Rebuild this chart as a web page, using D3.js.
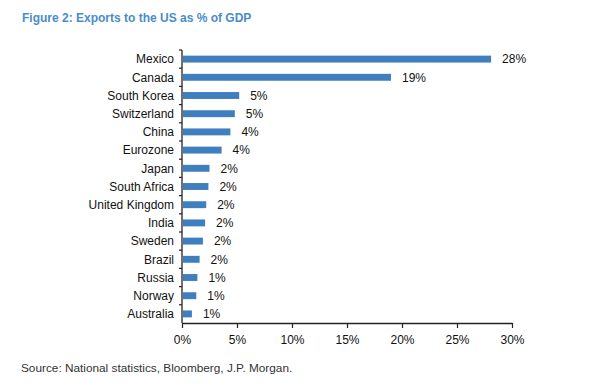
<!DOCTYPE html>
<html>
<head>
<meta charset="utf-8">
<script src="https://cdn.jsdelivr.net/npm/d3@7"></script>
<style>
  body { margin: 0; background: #fff; }
  text { font-family: "Liberation Sans", Arial, sans-serif; }
</style>
</head>
<body>
<svg id="vis" width="590" height="386"></svg>
<script>
const countries = ["Mexico", "Canada", "South Korea", "Switzerland", "China", "Eurozone", "Japan",
  "South Africa", "United Kingdom", "India", "Sweden", "Brazil", "Russia", "Norway", "Australia"];
const shares = [28.1, 19.0, 5.2, 4.8, 4.4, 3.6, 2.5, 2.4, 2.2, 2.1, 1.9, 1.6, 1.4, 1.3, 0.9];
const shareLabels = ["28%", "19%", "5%", "5%", "4%", "4%", "2%", "2%", "2%", "2%", "2%", "2%", "1%", "1%", "1%"];
const xTicks = [0, 5, 10, 15, 20, 25, 30];

const svg = d3.select("#vis");
const margins = { top: 50, left: 182, right: 78, bottom: 63 };
const width = 590, height = 386;
const data = countries.map((c, i) => ({ name: c, value: shares[i], label: shareLabels[i] }));

svg.append("text")
    .attr("x", 22).attr("y", 22)
    .attr("font-size", 12).attr("font-weight", "bold")
    .attr("fill", "#4a8cc9")
    .text("Figure 2: Exports to the US as % of GDP");

const x = d3.scaleLinear().domain([0, 30]).range([margins.left, width - margins.right]);
const y = d3.scaleBand().domain(countries)
    .range([margins.top, height - margins.bottom])
    .paddingInner(0.62).paddingOuter(0.31);

const g = svg.append("g");

g.selectAll("rect.bar")
  .data(data)
  .join("rect")
    .attr("class", "bar")
    .attr("x", x(0) + 1)
    .attr("y", d => y(d.name))
    .attr("width", d => x(d.value) - x(0) - 1)
    .attr("height", y.bandwidth())
    .attr("fill", "#3f7fbf");

g.selectAll("text.val")
  .data(data)
  .join("text")
    .attr("class", "val")
    .attr("x", d => x(d.value) + 11)
    .attr("y", d => y(d.name) + y.bandwidth() / 2)
    .attr("dy", "0.35em")
    .attr("font-size", 12)
    .attr("fill", "#111")
    .text(d => d.label);

// y axis: line + ticks at band boundaries
const yAxisG = svg.append("g");
const yTop = y.range()[0], yBottom = y.range()[1];
yAxisG.append("line")
    .attr("x1", x(0)).attr("x2", x(0))
    .attr("y1", yTop).attr("y2", yBottom)
    .attr("stroke", "#222").attr("stroke-width", 1.3);
const step = y.step();
yAxisG.selectAll("line.tk")
  .data(d3.range(countries.length))
  .join("line")
    .attr("class", "tk")
    .attr("x1", x(0) - 3).attr("x2", x(0))
    .attr("y1", i => yTop + i * step)
    .attr("y2", i => yTop + i * step)
    .attr("stroke", "#222").attr("stroke-width", 1.2);
yAxisG.selectAll("text")
  .data(countries)
  .join("text")
    .attr("x", x(0) - 8)
    .attr("y", d => y(d) + y.bandwidth() / 2)
    .attr("dy", "0.35em")
    .attr("text-anchor", "end")
    .attr("font-size", 12)
    .attr("fill", "#111")
    .text(d => d);

// x axis
const xAxisG = svg.append("g")
    .attr("transform", `translate(0,${yBottom})`)
    .call(d3.axisBottom(x).tickValues(xTicks).tickFormat(d => d + "%").tickSize(5).tickSizeOuter(0));
xAxisG.select(".domain").attr("stroke", "#222").attr("stroke-width", 1.3);
xAxisG.selectAll(".tick line").attr("stroke", "#222").attr("stroke-width", 1.2);
xAxisG.selectAll(".tick text")
    .attr("font-size", 12).attr("fill", "#111")
    .attr("font-family", "Liberation Sans, Arial, sans-serif")
    .attr("y", 12);

svg.append("text")
    .attr("x", 21).attr("y", 372)
    .attr("font-size", 11.8)
    .attr("fill", "#333")
    .text("Source: National statistics, Bloomberg, J.P. Morgan.");
</script>
</body>
</html>
